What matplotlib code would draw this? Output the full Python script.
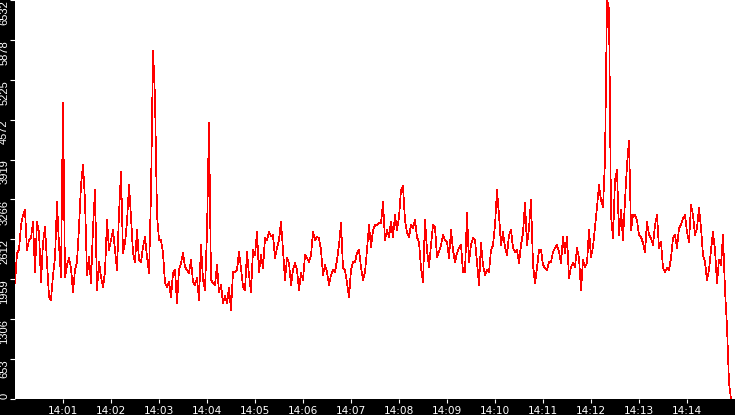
import numpy as np
import matplotlib
matplotlib.use("Agg")
import matplotlib.pyplot as plt

# ---- data ----
start_label = "14:00:00"
sample_interval_s = 2.5

values_0000 = [1900, 2390, 2438, 2847, 3010, 3092, 2438, 2602, 2634, 2896,
               2079, 2896, 2732, 1916, 2553, 2814, 2243, 1671, 1622, 2030,
               2308, 3222, 2520, 1998, 4855, 1998, 2194, 2308, 2145, 1753,
               2112, 2243, 2814, 3500, 3827, 3255, 2030, 2324, 1900, 2798,
               3418, 1785, 2243, 1998, 1834]
values_0150 = [2079, 2928, 2438, 2602, 2765, 2438, 2112, 3043, 3712, 2390,
               2553, 2896, 3500, 2977, 2390, 2243, 2765, 2275, 2243, 2487,
               2651, 2324, 2063, 3369, 5705, 4937, 3010, 2602, 2602, 2390,
               1900, 1834, 1916, 1671, 2063, 2112, 1573, 2112, 2226, 2390,
               2161, 2112, 2063, 2275, 1916]
values_0300 = [1867, 1981, 1622, 2520, 1949, 1785, 2732, 4529, 1949, 1900,
               1867, 2194, 1753, 1867, 1573, 1687, 1573, 1818, 1459, 2079,
               2079, 2112, 2406, 2145, 1834, 1785, 2406, 2030, 1753, 2438,
               2357, 2732, 2079, 2357, 2145, 2634, 2602, 2732, 2667, 2683,
               2308, 2471, 2602, 2896, 2438]
values_0430 = [1949, 2308, 2226, 1867, 2112, 2226, 2112, 1785, 2063, 1949,
               2357, 2308, 2243, 2357, 2732, 2602, 2651, 2634, 2438, 2030,
               2194, 2079, 1867, 2030, 2112, 2079, 2275, 2520, 2879, 2145,
               2112, 1900, 1671, 2112, 2243, 2243, 2390, 2438, 2161, 1949,
               2079, 2438, 2847, 2487, 2765]
values_0600 = [2847, 2847, 2879, 2879, 3222, 2602, 2765, 2651, 2896, 2651,
               3010, 2765, 2977, 3418, 3484, 2928, 2732, 2651, 2847, 2798,
               2928, 2651, 2569, 2145, 1916, 2928, 2438, 2161, 2520, 2847,
               2814, 2324, 2406, 2520, 2683, 2602, 2569, 2308, 2765, 2438,
               2243, 2390, 2471, 2520, 2079]
values_0730 = [2079, 3043, 2243, 2520, 2634, 2602, 2243, 1867, 2553, 2194,
               2030, 2112, 2079, 2438, 2520, 2847, 3418, 3010, 2520, 2732,
               2487, 2357, 2683, 2765, 2471, 2406, 2438, 2226, 2520, 2716,
               3206, 2520, 2798, 3255, 2194, 1900, 2145, 2438, 2438, 2194,
               2145, 2112, 2243, 2243, 2406]
values_0900 = [2471, 2520, 2406, 2226, 2651, 2390, 2651, 1981, 2161, 2226,
               2161, 2471, 2308, 1785, 2275, 2161, 2226, 2765, 2324, 2487,
               2814, 3141, 3500, 3255, 3141, 3908, 6532, 6390, 3010, 2634,
               3582, 3745, 2683, 3092, 2602, 3255, 3827, 4235, 2765, 3010,
               3010, 2928, 2683, 2651, 2553]
values_1030 = [2406, 2896, 2683, 2634, 2520, 2847, 3010, 2471, 2569, 2145,
               2079, 2145, 2112, 2308, 2634, 2683, 2471, 2798, 2847, 2961,
               3010, 2732, 2569, 3173, 3010, 2683, 2798, 3124, 2798, 2357,
               2243, 1949, 2112, 2438, 2732, 2438, 1900, 2275, 2194, 2683,
               1785, 1181, 267, 0]

x_tick_labels = ["14:01", "14:02", "14:03", "14:04", "14:05", "14:06", "14:07",
                 "14:08", "14:09", "14:10", "14:11", "14:12", "14:13", "14:14"]
y_ticks = [0, 653, 1306, 1959, 2612, 3266, 3919, 4572, 5225, 5878, 6532]
window_s = 900

values = (values_0000 + values_0150 + values_0300 + values_0430 +
          values_0600 + values_0730 + values_0900 + values_1030)
seconds = np.arange(len(values)) * sample_interval_s

# ---- figure ----
W, H = 735, 415
fig = plt.figure(figsize=(W / 100, H / 100), dpi=100, facecolor="black")
ax = fig.add_axes([15 / W, 16 / H, 720 / W, 399 / H])
ax.set_facecolor("white")

ax.plot(seconds, values, color="#ff0000", lw=0.5, antialiased=False)

ax.set_xlim(0, window_s)
ax.set_ylim(0, y_ticks[-1])
for s in ax.spines.values():
    s.set_visible(False)

ax.set_xticks([60 * (i + 1) for i in range(len(x_tick_labels))])
ax.set_xticklabels(x_tick_labels)
ax.set_yticks(y_ticks)
ax.set_yticklabels([str(v) for v in y_ticks])

ax.tick_params(axis="x", colors="white", direction="out", length=3.0,
               width=0.8, pad=2.0, labelsize=7.6)
ax.tick_params(axis="y", colors="white", direction="out", length=3.6,
               width=0.8, pad=0.6, labelsize=8.0)

for lab in ax.get_xticklabels():
    lab.set_family("DejaVu Sans")
for lab in ax.get_yticklabels():
    lab.set_family("Liberation Sans")
    lab.set_rotation(90)
    lab.set_ha("right")
    lab.set_va("top")
ax.get_yticklabels()[0].set_va("bottom")

fig.savefig("out.png", dpi=100, facecolor="black")
